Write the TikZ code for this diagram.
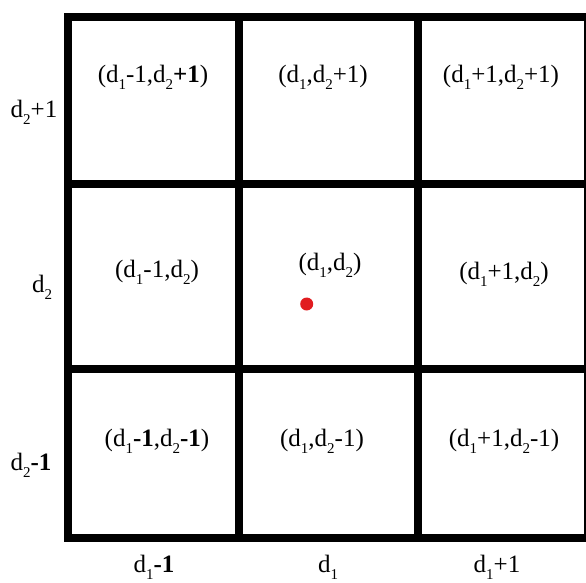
\documentclass[tikz,border=0pt]{standalone}
\usepackage{fontspec}
\setmainfont{Liberation Serif}
\usetikzlibrary{positioning}

\newcommand{\ix}[1]{\raisebox{-0.3em}{\fontsize{15}{15}\selectfont #1}}
\newcommand{\dA}{d\ix{1}}
\newcommand{\dB}{d\ix{2}}
\definecolor{dotred}{RGB}{225,28,32}

\begin{document}
\begin{tikzpicture}[x=1pt,y=-1pt,
  gridline/.style={line width=8pt},
  cell/.style={font=\fontsize{25}{30}\selectfont,inner sep=0pt,anchor=base},
  axislabel/.style={font=\fontsize{25}{30}\selectfont,inner sep=0pt,anchor=base}]

\useasboundingbox (0,0) rectangle (586,582);
\fill[white] (0,0) rectangle (586,582);

% the 3x3 grid
\draw[gridline] (68,16.5) rectangle (588,538);
\foreach \gx in {238.5,417.5}
  \draw[gridline] (\gx,16.5) -- (\gx,538);
\foreach \gy in {184,369}
  \draw[gridline] (68,\gy) -- (588,\gy);

% cell labels
\node[cell] (nw) at (153,82) {(\dA-1,\dB\textbf{+1})};
\node[cell] (n)  at (323,82) {(\dA,\dB+1)};
\node[cell] (ne) at (501,82) {(\dA+1,\dB+1)};
\node[cell] (w)  at (157,277) {(\dA-1,\dB)};
\node[cell] (c)  at (330,270) {(\dA,\dB)};
\node[cell] (e)  at (504,279) {(\dA+1,\dB)};
\node[cell] (sw) at (157,446) {(\dA\textbf{-1},\dB\textbf{-1})};
\node[cell] (s)  at (322,446) {(\dA,\dB-1)};
\node[cell] (se) at (504,446) {(\dA+1,\dB-1)};

% row and column labels
\node[axislabel] (row1) at (34,117) {\dB+1};
\node[axislabel] (row2) at (42,292) {\dB};
\node[axislabel] (row3) at (31,470) {\dB\textbf{-1}};
\node[axislabel] (col1) at (154,572) {\dA\textbf{-1}};
\node[axislabel] (col2) at (328,572) {\dA};
\node[axislabel] (col3) at (497,572) {\dA+1};

% the point
\fill[dotred] (306.7,304) circle (6.5);
\end{tikzpicture}
\end{document}
